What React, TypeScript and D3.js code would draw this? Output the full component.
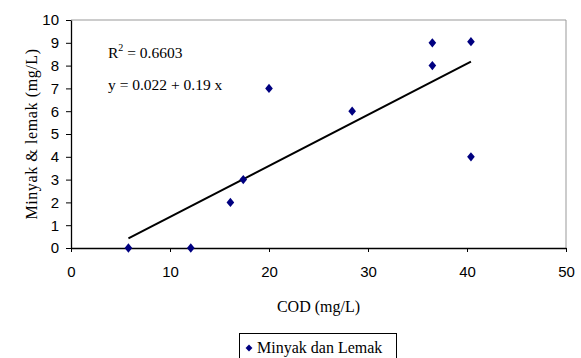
import React, { useEffect, useRef } from 'react';
import * as d3 from 'd3';

const codValues = [5.8, 12.1, 16.1, 17.4, 20, 28.4, 36.5, 36.5, 40.4, 40.4];
const oilValues = [0, 0, 2, 3, 7, 6, 9, 8, 9.05, 4];
const xTicks = [0, 10, 20, 30, 40, 50];
const yTicks = [0, 1, 2, 3, 4, 5, 6, 7, 8, 9, 10];
const seriesName = 'Minyak dan Lemak';

const W = 581;
const H = 358;
const left = 71;
const right = 566;
const top = 20;
const bottom = 248;

const App = () => {
  const svgRef = useRef<SVGSVGElement | null>(null);

  useEffect(() => {
    const svg = d3.select(svgRef.current);
    svg.selectAll('*').remove();

    const x = d3.scaleLinear().domain([0, 50]).range([left, right]);
    const y = d3.scaleLinear().domain([0, 10]).range([bottom, top]);

    // frame (gray top / right)
    svg.append('path')
      .attr('d', `M${left},${top}H${right}V${bottom}`)
      .attr('fill', 'none')
      .attr('stroke', '#999')
      .attr('stroke-width', 1);

    const xAxis = svg.append('g')
      .attr('transform', `translate(0,${bottom})`)
      .call(d3.axisBottom(x).tickValues(xTicks).tickSize(4).tickPadding(14).tickSizeOuter(0));
    const yAxis = svg.append('g')
      .attr('transform', `translate(${left},0)`)
      .call(d3.axisLeft(y).tickValues(yTicks).tickSize(5).tickPadding(7).tickSizeOuter(0));

    [xAxis, yAxis].forEach((g) => {
      g.select('.domain').attr('stroke', '#000').attr('stroke-width', 1.3);
      g.selectAll('line').attr('stroke', '#000');
      g.selectAll('text')
        .attr('fill', '#000')
        .style('font-family', '"Liberation Sans", Arial, sans-serif')
        .style('font-size', '15px');
    });

    // trend line (least squares)
    const mx = d3.mean(codValues)!;
    const my = d3.mean(oilValues)!;
    let sxy = 0;
    let sxx = 0;
    codValues.forEach((v, i) => {
      sxy += (v - mx) * (oilValues[i] - my);
      sxx += (v - mx) * (v - mx);
    });
    const slope = sxy / sxx;
    const icpt = my - slope * mx;
    const [x0, x1] = d3.extent(codValues) as [number, number];
    svg.append('line')
      .attr('x1', x(x0)).attr('y1', y(icpt + slope * x0))
      .attr('x2', x(x1)).attr('y2', y(icpt + slope * x1))
      .attr('stroke', '#000')
      .attr('stroke-width', 2);

    const diamond = d3.symbol().type(d3.symbolDiamond2).size(46);
    svg.append('g')
      .selectAll('path')
      .data(codValues)
      .enter()
      .append('path')
      .attr('d', diamond)
      .attr('transform', (d, i) => `translate(${x(d)},${y(oilValues[i])}) scale(0.9,1.1)`)
      .attr('fill', '#000080');

    const serif = '"Liberation Serif", "Times New Roman", serif';

    const r2 = svg.append('text')
      .attr('x', 108).attr('y', 58)
      .style('font-family', serif).style('font-size', '15.5px');
    r2.append('tspan').text('R');
    r2.append('tspan').attr('dy', -7).style('font-size', '10px').text('2');
    r2.append('tspan').attr('dy', 7).text(' = 0.6603');

    svg.append('text')
      .attr('x', 108).attr('y', 90)
      .style('font-family', serif).style('font-size', '15.5px')
      .text('y = 0.022 + 0.19 x');

    svg.append('text')
      .attr('x', (left + right) / 2).attr('y', 312)
      .attr('text-anchor', 'middle')
      .style('font-family', serif).style('font-size', '16px')
      .text('COD (mg/L)');

    svg.append('text')
      .attr('transform', `translate(37,${(top + bottom) / 2}) rotate(-90)`)
      .attr('text-anchor', 'middle')
      .style('font-family', serif).style('font-size', '16px')
      .style('letter-spacing', '0.6px')
      .text('Minyak & lemak (mg/L)');

    // legend
    svg.append('rect')
      .attr('x', 239.5).attr('y', 333.5)
      .attr('width', 157).attr('height', 40)
      .attr('fill', 'none').attr('stroke', '#000');
    svg.append('path')
      .attr('d', d3.symbol().type(d3.symbolDiamond2).size(30))
      .attr('transform', 'translate(249,348)')
      .attr('fill', '#000080');
    svg.append('text')
      .attr('x', 257).attr('y', 353)
      .style('font-family', serif).style('font-size', '16px')
      .text(seriesName);
  }, []);

  return (
    <svg
      ref={svgRef}
      width={W}
      height={H}
      style={{ position: 'absolute', left: 0, top: 0, background: '#fff' }}
    />
  );
};

export default App;
